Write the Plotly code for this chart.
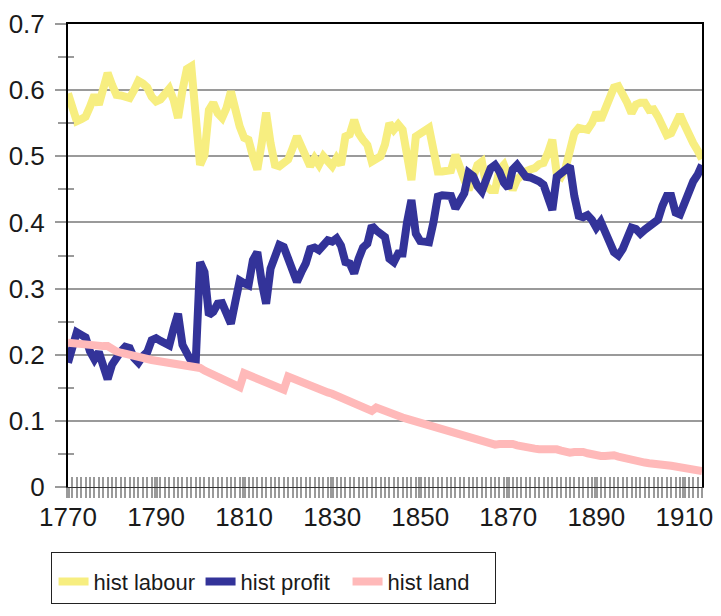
import plotly.graph_objects as go

years = list(range(1770, 1915))

hist_labour = [
    0.595, 0.575, 0.553, 0.556, 0.560, 0.575, 0.593, 0.578, 0.600, 0.626,  # 1770-1779
    0.608, 0.593, 0.592, 0.590, 0.588, 0.600, 0.614, 0.610, 0.604, 0.590,  # 1780-1789
    0.583, 0.586, 0.595, 0.602, 0.585, 0.558, 0.600, 0.632, 0.636, 0.560,  # 1790-1799
    0.487, 0.502, 0.570, 0.581, 0.565, 0.558, 0.573, 0.598, 0.570, 0.545,  # 1800-1809
    0.528, 0.525, 0.500, 0.480, 0.520, 0.566, 0.520, 0.487, 0.485, 0.490,  # 1810-1819
    0.495, 0.512, 0.530, 0.515, 0.500, 0.485, 0.497, 0.487, 0.500, 0.493,  # 1820-1829
    0.485, 0.497, 0.487, 0.530, 0.533, 0.555, 0.535, 0.525, 0.517, 0.492,  # 1830-1839
    0.495, 0.500, 0.518, 0.550, 0.540, 0.548, 0.540, 0.500, 0.464, 0.530,  # 1840-1849
    0.535, 0.538, 0.543, 0.510, 0.477, 0.477, 0.477, 0.479, 0.502, 0.480,  # 1850-1859
    0.465, 0.449, 0.470, 0.487, 0.492, 0.455, 0.449, 0.449, 0.480, 0.487,  # 1860-1869
    0.470, 0.449, 0.465, 0.472, 0.477, 0.480, 0.482, 0.488, 0.490, 0.505,  # 1870-1879
    0.525, 0.474, 0.469, 0.482, 0.510, 0.535, 0.543, 0.541, 0.540, 0.550,  # 1880-1889
    0.566, 0.555, 0.570, 0.583, 0.604, 0.606, 0.595, 0.581, 0.565, 0.578,  # 1890-1899
    0.581, 0.581, 0.570, 0.571, 0.560, 0.543, 0.532, 0.535, 0.550, 0.563,  # 1900-1909
    0.548, 0.532, 0.520, 0.509, 0.496,                                     # 1910-1914
]

hist_profit = [
    0.188, 0.215, 0.234, 0.230, 0.226, 0.205, 0.193, 0.204, 0.185, 0.163,  # 1770-1779
    0.185, 0.198, 0.205, 0.212, 0.210, 0.195, 0.188, 0.198, 0.204, 0.222,  # 1780-1789
    0.225, 0.221, 0.216, 0.214, 0.240, 0.262, 0.215, 0.200, 0.190, 0.188,  # 1790-1799
    0.340, 0.325, 0.260, 0.265, 0.277, 0.278, 0.262, 0.247, 0.280, 0.312,  # 1800-1809
    0.308, 0.305, 0.343, 0.355, 0.310, 0.277, 0.330, 0.350, 0.366, 0.363,  # 1810-1819
    0.345, 0.328, 0.310, 0.325, 0.338, 0.360, 0.362, 0.358, 0.368, 0.373,  # 1820-1829
    0.371, 0.376, 0.365, 0.340, 0.338, 0.323, 0.345, 0.362, 0.368, 0.395,  # 1830-1839
    0.388, 0.382, 0.378, 0.345, 0.340, 0.353, 0.353, 0.400, 0.434, 0.383,  # 1840-1849
    0.372, 0.371, 0.370, 0.400, 0.439, 0.441, 0.442, 0.440, 0.421, 0.432,  # 1850-1859
    0.444, 0.475, 0.470, 0.455, 0.447, 0.465, 0.482, 0.487, 0.477, 0.460,  # 1860-1869
    0.452, 0.480, 0.487, 0.478, 0.469, 0.468, 0.466, 0.462, 0.457, 0.440,  # 1870-1879
    0.419, 0.469, 0.474, 0.480, 0.485, 0.440, 0.410, 0.408, 0.411, 0.404,  # 1880-1889
    0.392, 0.401, 0.385, 0.373, 0.355, 0.350, 0.360, 0.376, 0.392, 0.390,  # 1890-1899
    0.383, 0.389, 0.395, 0.401, 0.404, 0.425, 0.440, 0.440, 0.415, 0.412,  # 1900-1909
    0.430, 0.448, 0.462, 0.472, 0.487,                                     # 1910-1914
]

hist_land = [
    0.218, 0.217, 0.216, 0.216, 0.215, 0.215, 0.214, 0.214, 0.213, 0.213,  # 1770-1779
    0.208, 0.205, 0.203, 0.201, 0.200, 0.198, 0.197, 0.196, 0.194, 0.192,  # 1780-1789
    0.191, 0.190, 0.189, 0.188, 0.186, 0.185, 0.184, 0.183, 0.182, 0.181,  # 1790-1799
    0.180, 0.176, 0.173, 0.170, 0.166, 0.163, 0.160, 0.157, 0.154, 0.151,  # 1800-1809
    0.172, 0.169, 0.166, 0.163, 0.161, 0.158, 0.155, 0.153, 0.150, 0.147,  # 1810-1819
    0.167, 0.164, 0.162, 0.159, 0.156, 0.154, 0.151, 0.149, 0.146, 0.143,  # 1820-1829
    0.141, 0.138, 0.136, 0.133, 0.130, 0.127, 0.124, 0.121, 0.118, 0.115,  # 1830-1839
    0.120, 0.117, 0.115, 0.112, 0.110, 0.108, 0.105, 0.103, 0.101, 0.098,  # 1840-1849
    0.096, 0.094, 0.092, 0.090, 0.088, 0.086, 0.084, 0.082, 0.080, 0.079,  # 1850-1859
    0.077, 0.075, 0.073, 0.071, 0.069, 0.067, 0.065, 0.064, 0.065, 0.066,  # 1860-1869
    0.066, 0.065, 0.063, 0.061, 0.060, 0.059, 0.058, 0.057, 0.057, 0.058,  # 1870-1879
    0.059, 0.057, 0.055, 0.053, 0.052, 0.053, 0.054, 0.053, 0.051, 0.049,  # 1880-1889
    0.048, 0.047, 0.047, 0.048, 0.048, 0.046, 0.044, 0.042, 0.041, 0.040,  # 1890-1899
    0.038, 0.037, 0.036, 0.036, 0.035, 0.034, 0.033, 0.032, 0.031, 0.030,  # 1900-1909
    0.029, 0.028, 0.027, 0.025, 0.024,                                     # 1910-1914
]

series_names = ["hist labour", "hist profit", "hist land"]
series_colors = ["#F7EE80", "#333399", "#FFB9B9"]

FONT = "Liberation Sans, Arial, sans-serif"
TXT = "#1a1a1a"
GRID = "#9a9a9a"

fig = go.Figure()
for name, vals, col in zip(series_names, [hist_labour, hist_profit, hist_land], series_colors):
    fig.add_trace(go.Scatter(x=years, y=vals, mode="lines", name=name,
                             line=dict(color=col, width=8)))

xr = [1770, 1914]
yr = [0, 0.7]

fig.update_layout(
    width=721, height=616,
    margin=dict(l=60, r=27, t=16, b=137, autoexpand=False),
    paper_bgcolor="white", plot_bgcolor="white",
    font=dict(family=FONT, size=26, color=TXT),
    showlegend=True,
    legend=dict(orientation="h", x=-0.027, y=-0.14, xanchor="left", yanchor="top",
                bordercolor="#222", borderwidth=1, bgcolor="white",
                font=dict(family=FONT, size=22, color=TXT),
                itemwidth=30, entrywidth=102, entrywidthmode="pixels",
                title=dict(text=" ", side="top left", font=dict(size=6))),
    xaxis=dict(range=xr, tick0=1770, dtick=20, showgrid=False, zeroline=False,
               automargin=False,
               ticks="outside", ticklen=10, tickwidth=4, tickcolor=GRID,
               minor=dict(dtick=1, tick0=1770, ticks="outside", ticklen=10,
                          tickwidth=1.5, tickcolor=GRID, showgrid=False),
               showline=True, linecolor="#333", linewidth=1, mirror=False,
               ticklabelstandoff=-3,
               tickfont=dict(family=FONT, size=26, color=TXT)),
    xaxis2=dict(range=xr, overlaying="x", side="bottom", showticklabels=False,
                automargin=False,
                showgrid=False, zeroline=False, tick0=1770, dtick=20,
                ticks="inside", ticklen=10, tickwidth=4, tickcolor=GRID,
                minor=dict(dtick=1, tick0=1770, ticks="inside", ticklen=10,
                           tickwidth=1.5, tickcolor=GRID, showgrid=False),
                showline=False),
    xaxis3=dict(range=xr, overlaying="x", side="top", showticklabels=False,
                automargin=False,
                showgrid=False, zeroline=False, ticks="",
                showline=True, linecolor="black", linewidth=2),
    yaxis=dict(range=yr, dtick=0.1, showgrid=True, gridcolor=GRID, gridwidth=2,
               automargin=False,
               zeroline=False, ticks="outside", ticklen=11, tickwidth=2, tickcolor=GRID,
               minor=dict(dtick=0.05, ticks="outside", ticklen=8, tickwidth=2,
                          tickcolor=GRID, showgrid=False),
               showline=True, linecolor="black", linewidth=2, mirror=False,
               ticklabelstandoff=5,
               tickfont=dict(family=FONT, size=26, color=TXT)),
    yaxis2=dict(range=yr, overlaying="y", side="left", showticklabels=False,
                automargin=False,
                showgrid=False, zeroline=False, dtick=0.1, ticks="",
                minor=dict(dtick=0.05, ticks="inside", ticklen=6, tickwidth=2,
                           tickcolor=GRID, showgrid=False),
                showline=False),
    yaxis3=dict(range=yr, overlaying="y", side="right", showticklabels=False,
                automargin=False,
                showgrid=False, zeroline=False, ticks="",
                showline=True, linecolor="black", linewidth=2),
)

# invisible helper traces so the overlay axes are drawn
fig.add_trace(go.Scatter(x=[years[0]], y=[hist_land[0]], xaxis="x2", yaxis="y2",
                         mode="lines", showlegend=False, hoverinfo="skip",
                         line=dict(width=0)))
fig.add_trace(go.Scatter(x=[years[0]], y=[hist_land[0]], xaxis="x3", yaxis="y3",
                         mode="lines", showlegend=False, hoverinfo="skip",
                         line=dict(width=0)))

fig.write_html("out.html")
